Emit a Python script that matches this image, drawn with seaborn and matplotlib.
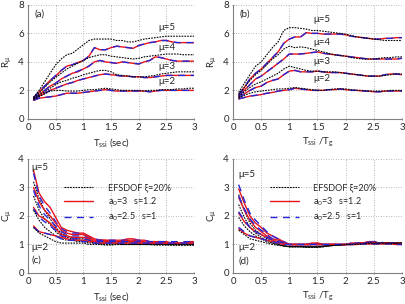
import numpy as np
import matplotlib
matplotlib.use("Agg")
import matplotlib.pyplot as plt
import seaborn as sns

# period axis (sec or T/Tg)
T = np.round(np.arange(0.1, 3.01, 0.1), 1)

# ---- (a) R_mu vs Tssi (sec)
a5_ef = [1.5, 2.0, 2.6, 3.2, 3.8, 4.2, 4.5, 4.6, 4.9, 5.2, 5.5, 5.6, 5.6, 5.6, 5.6, 5.5, 5.5, 5.4, 5.4, 5.5, 5.6, 5.65, 5.7, 5.75, 5.8, 5.8, 5.8, 5.8, 5.8, 5.8]
a5_r = [1.5, 1.9, 2.3, 2.7, 3.0, 3.4, 3.7, 3.8, 3.95, 4.1, 4.4, 5.0, 4.85, 4.85, 5.0, 5.1, 5.05, 5.0, 4.95, 5.15, 5.25, 5.35, 5.4, 5.5, 5.5, 5.4, 5.35, 5.35, 5.35, 5.35]
a5_b = [1.5, 1.9, 2.3, 2.7, 3.05, 3.4, 3.7, 3.8, 3.95, 4.1, 4.4, 5.0, 4.85, 4.85, 5.0, 5.1, 5.05, 5.0, 4.95, 5.15, 5.25, 5.35, 5.4, 5.5, 5.5, 5.4, 5.35, 5.35, 5.35, 5.35]
a4_ef = [1.45, 1.8, 2.2, 2.6, 2.9, 3.2, 3.5, 3.7, 3.9, 4.1, 4.3, 4.4, 4.5, 4.5, 4.4, 4.35, 4.3, 4.25, 4.2, 4.25, 4.35, 4.4, 4.45, 4.5, 4.55, 4.55, 4.55, 4.5, 4.5, 4.5]
a4_r = [1.4, 1.7, 2.0, 2.3, 2.5, 2.8, 3.0, 3.2, 3.3, 3.5, 3.7, 4.0, 4.1, 4.0, 3.95, 3.9, 4.0, 3.95, 3.9, 3.85, 4.0, 4.1, 4.35, 4.3, 4.2, 4.1, 4.05, 4.05, 4.05, 4.05]
a4_b = [1.4, 1.7, 2.0, 2.3, 2.5, 2.8, 3.0, 3.2, 3.35, 3.5, 3.7, 4.0, 4.1, 4.0, 3.95, 3.9, 4.0, 3.95, 3.9, 3.85, 4.0, 4.1, 4.35, 4.3, 4.2, 4.1, 4.05, 4.05, 4.05, 4.05]
a3_ef = [1.4, 1.65, 1.9, 2.15, 2.4, 2.6, 2.7, 2.85, 2.95, 3.1, 3.2, 3.3, 3.4, 3.4, 3.3, 3.1, 3.05, 3.0, 2.95, 2.95, 2.95, 3.0, 3.05, 3.15, 3.2, 3.25, 3.3, 3.3, 3.3, 3.3]
a3_r = [1.35, 1.6, 1.8, 2.0, 2.15, 2.3, 2.45, 2.55, 2.7, 2.8, 2.9, 3.0, 3.1, 3.15, 3.1, 3.05, 3.0, 3.0, 2.95, 2.95, 2.9, 2.9, 2.95, 3.0, 3.05, 3.05, 3.05, 3.05, 3.05, 3.05]
a3_b = [1.35, 1.6, 1.8, 2.0, 2.15, 2.3, 2.45, 2.55, 2.7, 2.8, 2.9, 3.0, 3.1, 3.15, 3.1, 3.05, 3.0, 3.0, 2.95, 2.95, 2.9, 2.9, 2.95, 3.0, 3.05, 3.05, 3.05, 3.05, 3.05, 3.05]
a2_ef = [1.35, 1.55, 1.75, 1.95, 2.0, 2.0, 1.95, 1.95, 1.95, 2.0, 2.05, 2.05, 2.1, 2.15, 2.1, 2.05, 2.0, 2.0, 2.0, 2.0, 1.95, 2.0, 2.0, 2.05, 2.05, 2.05, 2.1, 2.1, 2.15, 2.15]
a2_r = [1.3, 1.45, 1.5, 1.55, 1.6, 1.7, 1.8, 1.8, 1.8, 1.85, 1.9, 1.95, 2.0, 2.05, 2.0, 1.95, 1.95, 1.95, 1.95, 1.95, 1.95, 1.9, 1.95, 2.0, 2.0, 2.0, 2.0, 2.0, 2.0, 2.0]
a2_b = [1.3, 1.45, 1.5, 1.55, 1.6, 1.7, 1.8, 1.8, 1.8, 1.85, 1.9, 1.95, 2.0, 2.05, 2.0, 1.95, 1.95, 1.95, 1.95, 1.95, 1.95, 1.9, 1.95, 2.0, 2.0, 2.0, 2.0, 2.0, 2.0, 2.0]

# ---- (b) R_mu vs Tssi/Tg
b5_ef = [1.85, 2.5, 3.1, 3.7, 4.0, 4.5, 5.0, 5.4, 6.2, 6.4, 6.4, 6.35, 6.3, 6.2, 6.2, 6.15, 6.1, 6.05, 6.0, 5.95, 5.85, 5.75, 5.7, 5.65, 5.6, 5.55, 5.5, 5.5, 5.5, 5.5]
b5_r = [1.7, 2.2, 2.8, 3.2, 3.5, 3.9, 4.3, 4.7, 5.3, 5.6, 5.75, 5.75, 6.05, 6.0, 6.0, 5.95, 5.95, 5.95, 5.95, 5.9, 5.8, 5.75, 5.7, 5.65, 5.6, 5.6, 5.65, 5.65, 5.7, 5.7]
b5_b = [1.7, 2.25, 2.8, 3.2, 3.5, 3.9, 4.3, 4.7, 5.3, 5.6, 5.75, 5.75, 6.05, 6.0, 6.0, 5.95, 5.95, 5.95, 5.95, 5.9, 5.8, 5.75, 5.7, 5.65, 5.6, 5.6, 5.65, 5.65, 5.7, 5.7]
b4_ef = [1.7, 2.2, 2.7, 3.1, 3.4, 3.8, 4.2, 4.5, 4.9, 5.1, 5.0, 5.05, 5.0, 4.9, 4.8, 4.7, 4.6, 4.5, 4.45, 4.4, 4.3, 4.25, 4.2, 4.2, 4.2, 4.25, 4.3, 4.3, 4.35, 4.35]
b4_r = [1.6, 2.0, 2.4, 2.8, 3.0, 3.3, 3.6, 3.9, 4.2, 4.55, 4.55, 4.55, 4.6, 4.65, 4.7, 4.6, 4.55, 4.5, 4.45, 4.4, 4.35, 4.3, 4.25, 4.2, 4.2, 4.2, 4.2, 4.2, 4.2, 4.25]
b4_b = [1.6, 2.0, 2.4, 2.8, 3.0, 3.3, 3.6, 3.9, 4.2, 4.55, 4.55, 4.55, 4.6, 4.65, 4.7, 4.6, 4.55, 4.5, 4.45, 4.4, 4.35, 4.3, 4.25, 4.2, 4.2, 4.2, 4.2, 4.2, 4.2, 4.25]
b3_ef = [1.55, 1.9, 2.2, 2.45, 2.6, 2.8, 3.0, 3.2, 3.5, 3.7, 3.6, 3.5, 3.4, 3.35, 3.35, 3.3, 3.3, 3.3, 3.25, 3.2, 3.15, 3.1, 3.05, 3.0, 3.0, 3.0, 3.05, 3.1, 3.15, 3.15]
b3_r = [1.5, 1.75, 2.0, 2.2, 2.3, 2.55, 2.7, 2.8, 3.1, 3.35, 3.4, 3.3, 3.3, 3.3, 3.35, 3.3, 3.25, 3.25, 3.25, 3.2, 3.15, 3.1, 3.05, 3.0, 3.0, 3.0, 3.1, 3.15, 3.15, 3.1]
b3_b = [1.5, 1.75, 2.0, 2.2, 2.3, 2.55, 2.7, 2.8, 3.1, 3.35, 3.4, 3.3, 3.3, 3.3, 3.35, 3.3, 3.25, 3.25, 3.25, 3.2, 3.15, 3.1, 3.05, 3.0, 3.0, 3.0, 3.1, 3.15, 3.15, 3.1]
b2_ef = [1.45, 1.65, 1.8, 1.9, 1.95, 2.0, 2.05, 2.1, 2.1, 2.15, 2.2, 2.15, 2.1, 2.05, 2.0, 2.0, 2.05, 2.1, 2.1, 2.1, 2.05, 2.0, 2.0, 1.95, 1.95, 1.95, 1.95, 2.0, 2.0, 2.0]
b2_r = [1.4, 1.5, 1.6, 1.65, 1.7, 1.8, 1.85, 1.95, 2.0, 2.05, 2.15, 2.1, 2.05, 2.0, 2.0, 2.0, 2.05, 2.05, 2.1, 2.05, 2.0, 2.0, 1.95, 1.95, 1.9, 1.9, 1.95, 1.95, 1.95, 1.95]
b2_b = [1.4, 1.5, 1.6, 1.65, 1.7, 1.8, 1.85, 1.95, 2.0, 2.05, 2.15, 2.1, 2.05, 2.0, 2.0, 2.0, 2.05, 2.05, 2.1, 2.05, 2.0, 2.0, 1.95, 1.95, 1.9, 1.9, 1.95, 1.95, 1.95, 1.95]

# ---- (c) C_mu vs Tssi (sec)
c5_ef = [3.2, 2.6, 2.2, 1.9, 1.6, 1.4, 1.3, 1.25, 1.2, 1.2, 1.15, 1.1, 1.05, 1.05, 1.05, 1.05, 1.05, 1.05, 1.05, 1.05, 1.0, 1.0, 1.0, 1.0, 1.0, 1.0, 1.0, 1.0, 1.0, 1.0]
c5_r = [3.6, 2.8, 2.5, 2.3, 1.95, 1.6, 1.5, 1.45, 1.4, 1.4, 1.3, 1.2, 1.15, 1.15, 1.15, 1.15, 1.15, 1.2, 1.2, 1.15, 1.15, 1.1, 1.1, 1.1, 1.1, 1.05, 1.05, 1.05, 1.1, 1.1]
c5_b = [3.5, 2.7, 2.35, 2.1, 1.8, 1.55, 1.45, 1.4, 1.4, 1.35, 1.25, 1.2, 1.15, 1.15, 1.15, 1.15, 1.15, 1.15, 1.15, 1.15, 1.15, 1.1, 1.1, 1.1, 1.1, 1.1, 1.1, 1.1, 1.1, 1.1]
c4_ef = [2.7, 2.2, 1.9, 1.7, 1.45, 1.3, 1.25, 1.2, 1.15, 1.15, 1.1, 1.05, 1.05, 1.05, 1.05, 1.05, 1.0, 1.0, 1.0, 1.0, 1.0, 1.0, 1.0, 1.0, 1.0, 1.0, 1.0, 1.0, 1.0, 1.0]
c4_r = [3.0, 2.5, 2.2, 2.0, 1.75, 1.5, 1.4, 1.35, 1.35, 1.35, 1.25, 1.15, 1.15, 1.15, 1.1, 1.1, 1.1, 1.15, 1.15, 1.1, 1.1, 1.05, 1.05, 1.05, 1.05, 1.05, 1.05, 1.05, 1.05, 1.05]
c4_b = [2.9, 2.35, 2.05, 1.85, 1.65, 1.45, 1.35, 1.3, 1.3, 1.3, 1.2, 1.15, 1.15, 1.1, 1.1, 1.1, 1.1, 1.1, 1.1, 1.1, 1.1, 1.05, 1.05, 1.05, 1.05, 1.05, 1.05, 1.05, 1.05, 1.05]
c3_ef = [2.2, 1.85, 1.6, 1.45, 1.3, 1.2, 1.15, 1.15, 1.1, 1.1, 1.05, 1.05, 1.0, 1.0, 1.0, 1.0, 1.0, 1.0, 1.0, 1.0, 1.0, 1.0, 1.0, 1.0, 1.0, 0.98, 0.98, 0.98, 0.98, 0.98]
c3_r = [2.3, 2.0, 1.9, 1.75, 1.55, 1.35, 1.3, 1.25, 1.25, 1.25, 1.2, 1.1, 1.1, 1.1, 1.1, 1.1, 1.1, 1.1, 1.1, 1.05, 1.05, 1.05, 1.05, 1.05, 1.05, 1.05, 1.05, 1.05, 1.05, 1.05]
c3_b = [2.25, 1.95, 1.8, 1.65, 1.5, 1.3, 1.25, 1.2, 1.2, 1.2, 1.15, 1.1, 1.1, 1.1, 1.1, 1.1, 1.1, 1.1, 1.1, 1.05, 1.05, 1.05, 1.05, 1.05, 1.05, 1.05, 1.05, 1.05, 1.05, 1.05]
c2_ef = [1.6, 1.4, 1.3, 1.2, 1.1, 1.05, 1.05, 1.05, 1.05, 1.05, 1.0, 1.0, 1.0, 0.98, 0.98, 1.0, 1.0, 1.0, 1.0, 1.0, 1.0, 1.0, 0.98, 0.98, 0.98, 0.98, 0.98, 0.98, 0.98, 0.98]
c2_r = [1.65, 1.45, 1.4, 1.35, 1.3, 1.25, 1.2, 1.15, 1.15, 1.15, 1.1, 1.1, 1.05, 1.05, 1.05, 1.05, 1.05, 1.05, 1.05, 1.05, 1.05, 1.05, 1.05, 1.05, 1.05, 1.05, 1.05, 1.05, 1.05, 1.05]
c2_b = [1.6, 1.45, 1.4, 1.35, 1.3, 1.2, 1.15, 1.15, 1.15, 1.1, 1.1, 1.05, 1.05, 1.05, 1.05, 1.05, 1.05, 1.05, 1.05, 1.05, 1.05, 1.05, 1.05, 1.05, 1.05, 1.05, 1.05, 1.05, 1.05, 1.05]

# ---- (d) C_mu vs Tssi/Tg
d5_ef = [2.75, 2.2, 1.75, 1.5, 1.35, 1.2, 1.1, 1.05, 0.95, 0.92, 0.92, 0.92, 0.9, 0.9, 0.9, 0.92, 0.95, 0.97, 0.98, 1.0, 1.0, 1.02, 1.05, 1.05, 1.05, 1.05, 1.05, 1.05, 1.05, 1.05]
d5_r = [2.95, 2.45, 2.0, 1.75, 1.6, 1.4, 1.3, 1.2, 1.1, 1.0, 1.0, 1.0, 1.0, 1.05, 1.05, 1.0, 1.0, 1.0, 1.0, 1.0, 1.05, 1.05, 1.05, 1.1, 1.1, 1.05, 1.05, 1.05, 1.05, 1.05]
d5_b = [3.1, 2.55, 2.1, 1.85, 1.65, 1.45, 1.3, 1.2, 1.1, 1.0, 1.0, 1.0, 1.0, 1.0, 1.05, 1.0, 1.0, 1.0, 1.0, 1.0, 1.05, 1.05, 1.05, 1.1, 1.1, 1.1, 1.05, 1.05, 1.05, 1.05]
d4_ef = [2.4, 1.95, 1.6, 1.4, 1.25, 1.15, 1.05, 1.0, 0.95, 0.92, 0.92, 0.92, 0.9, 0.9, 0.9, 0.92, 0.95, 0.97, 0.98, 1.0, 1.0, 1.02, 1.03, 1.05, 1.05, 1.05, 1.05, 1.05, 1.05, 1.05]
d4_r = [2.65, 2.2, 1.85, 1.6, 1.45, 1.3, 1.2, 1.15, 1.05, 1.0, 1.0, 1.0, 1.0, 1.0, 1.05, 1.0, 1.0, 1.0, 1.0, 1.0, 1.02, 1.05, 1.05, 1.08, 1.08, 1.05, 1.05, 1.05, 1.05, 1.0]
d4_b = [2.7, 2.25, 1.9, 1.65, 1.5, 1.35, 1.2, 1.15, 1.05, 1.0, 1.0, 1.0, 1.0, 1.0, 1.0, 1.0, 1.0, 1.0, 1.0, 1.0, 1.02, 1.05, 1.05, 1.08, 1.08, 1.05, 1.05, 1.05, 1.05, 1.05]
d3_ef = [1.95, 1.65, 1.45, 1.3, 1.2, 1.1, 1.05, 1.0, 0.95, 0.92, 0.92, 0.92, 0.92, 0.92, 0.92, 0.93, 0.95, 0.97, 0.98, 1.0, 1.0, 1.02, 1.03, 1.05, 1.05, 1.05, 1.05, 1.05, 1.05, 1.05]
d3_r = [2.1, 1.8, 1.6, 1.45, 1.35, 1.25, 1.15, 1.1, 1.05, 1.0, 1.0, 1.0, 1.0, 1.0, 1.0, 1.0, 1.0, 1.0, 1.0, 1.0, 1.0, 1.02, 1.05, 1.05, 1.05, 1.05, 1.05, 1.05, 1.05, 1.05]
d3_b = [2.15, 1.85, 1.6, 1.45, 1.35, 1.25, 1.15, 1.1, 1.05, 1.0, 1.0, 1.0, 1.0, 1.0, 1.0, 1.0, 1.0, 1.0, 1.0, 1.0, 1.0, 1.02, 1.05, 1.05, 1.05, 1.05, 1.05, 1.05, 1.05, 1.05]
d2_ef = [1.5, 1.35, 1.2, 1.15, 1.1, 1.05, 1.0, 0.97, 0.95, 0.93, 0.93, 0.93, 0.93, 0.93, 0.93, 0.95, 0.96, 0.97, 0.98, 1.0, 1.0, 1.0, 1.02, 1.03, 1.03, 1.03, 1.03, 1.03, 1.03, 1.03]
d2_r = [1.55, 1.4, 1.3, 1.25, 1.2, 1.15, 1.1, 1.05, 1.0, 1.0, 1.0, 1.0, 1.0, 1.0, 1.0, 1.0, 1.0, 1.0, 1.0, 1.0, 1.0, 1.0, 1.02, 1.02, 1.02, 1.02, 1.02, 1.02, 1.0, 1.0]
d2_b = [1.6, 1.45, 1.3, 1.25, 1.2, 1.15, 1.1, 1.05, 1.0, 1.0, 1.0, 1.0, 1.0, 1.0, 1.0, 1.0, 1.0, 1.0, 1.0, 1.0, 1.0, 1.0, 1.02, 1.02, 1.02, 1.02, 1.02, 1.02, 1.0, 1.0]

sns.set_theme(style="white")
plt.rcParams["font.family"] = ["Lato", "DejaVu Sans"]
plt.rcParams["mathtext.fontset"] = "custom"
plt.rcParams["mathtext.rm"] = "Lato"
plt.rcParams["mathtext.it"] = "Lato"

RED = "#e8141c"
BLUE = "#2626d9"

fig = plt.figure(figsize=(4.06, 3.04), dpi=100)
ax_a = fig.add_axes([0.069, 0.609, 0.409, 0.375])
ax_b = fig.add_axes([0.574, 0.609, 0.416, 0.375])
ax_c = fig.add_axes([0.069, 0.102, 0.409, 0.375])
ax_d = fig.add_axes([0.574, 0.102, 0.416, 0.375])

panels = [
    (ax_a, [(a5_ef, a5_r, a5_b), (a4_ef, a4_r, a4_b), (a3_ef, a3_r, a3_b), (a2_ef, a2_r, a2_b)]),
    (ax_b, [(b5_ef, b5_r, b5_b), (b4_ef, b4_r, b4_b), (b3_ef, b3_r, b3_b), (b2_ef, b2_r, b2_b)]),
    (ax_c, [(c5_ef, c5_r, c5_b), (c4_ef, c4_r, c4_b), (c3_ef, c3_r, c3_b), (c2_ef, c2_r, c2_b)]),
    (ax_d, [(d5_ef, d5_r, d5_b), (d4_ef, d4_r, d4_b), (d3_ef, d3_r, d3_b), (d2_ef, d2_r, d2_b)]),
]

for ax, groups in panels:
    for i, (ef, r, b) in enumerate(groups):
        sns.lineplot(x=T, y=r, ax=ax, color=RED, lw=1.0,
                     label="a$_0$=3   s=1.2" if i == 0 else None)
        sns.lineplot(x=T, y=b, ax=ax, color=BLUE, lw=1.0, linestyle=(0, (5, 4)),
                     label="a$_0$=2.5   s=1" if i == 0 else None)
        sns.lineplot(x=T, y=ef, ax=ax, color="black", lw=0.8, linestyle=(0, (1.5, 1)),
                     label="EFSDOF ξ=20%" if i == 0 else None)

for ax in [ax_a, ax_b, ax_c, ax_d]:
    ax.set_xlim(0, 3)
    ax.set_xticks([0, 0.5, 1, 1.5, 2, 2.5, 3])
    ax.set_xticklabels(["0", "0.5", "1", "1.5", "2", "2.5", "3"])
    ax.grid(True, color="#a0a0a0", linestyle=(0, (1, 2)), linewidth=0.6)
    for s in ["top", "right"]:
        ax.spines[s].set_visible(False)
    for s in ["left", "bottom"]:
        ax.spines[s].set_color("#808080")
        ax.spines[s].set_linewidth(0.8)
    ax.tick_params(labelsize=7, length=2, width=0.6, color="#808080", pad=2,
                   direction="inout", left=True, bottom=True)

for ax in [ax_a, ax_b]:
    ax.set_ylim(0, 8)
    ax.set_yticks([0, 2, 4, 6, 8])
    ax.set_ylabel("R$_\\mu$", fontsize=7, labelpad=3)
for ax in [ax_c, ax_d]:
    ax.set_ylim(0, 4)
    ax.set_yticks([0, 1, 2, 3, 4])
    ax.set_ylabel("C$_\\mu$", fontsize=7, labelpad=3)

ax_a.set_xlabel("T$_{ssi}$ (sec)", fontsize=7, labelpad=3)
ax_c.set_xlabel("T$_{ssi}$ (sec)", fontsize=7, labelpad=3)
ax_b.set_xlabel("T$_{ssi}$ /T$_g$", fontsize=7, labelpad=3)
ax_d.set_xlabel("T$_{ssi}$ /T$_g$", fontsize=7, labelpad=3)

# legends only on bottom panels
ax_a.get_legend().remove()
ax_b.get_legend().remove()
for ax in [ax_c, ax_d]:
    h, l = ax.get_legend_handles_labels()
    order = [2, 0, 1]
    ax.legend([h[k] for k in order], [l[k] for k in order], loc="upper left",
              bbox_to_anchor=(0.17, 0.86), frameon=False, fontsize=6.5,
              handlelength=3.2, handletextpad=1.6, labelspacing=0.35)

fs = 7
ax_a.text(0.04, 0.9, "(a)", transform=ax_a.transAxes, fontsize=fs)
for y, t in [(6.4, "μ=5"), (5.0, "μ=4"), (3.7, "μ=3"), (2.6, "μ=2")]:
    ax_a.text(2.35, y, t, fontsize=fs, va="center")
ax_b.text(0.04, 0.9, "(b)", transform=ax_b.transAxes, fontsize=fs)
for y, t in [(7.0, "μ=5"), (5.35, "μ=4"), (4.0, "μ=3"), (2.8, "μ=2")]:
    ax_b.text(1.42, y, t, fontsize=fs, va="center")
ax_c.text(0.06, 3.7, "μ=5", fontsize=fs, va="center")
ax_c.text(0.06, 0.9, "μ=2", fontsize=fs, va="center")
ax_c.text(0.07, 0.45, "(c)", fontsize=fs, va="center")
ax_d.text(0.09, 3.45, "μ=5", fontsize=fs, va="center")
ax_d.text(0.09, 0.9, "μ=2", fontsize=fs, va="center")
ax_d.text(0.09, 0.43, "(d)", fontsize=fs, va="center")

fig.savefig("out.png", dpi=100)
